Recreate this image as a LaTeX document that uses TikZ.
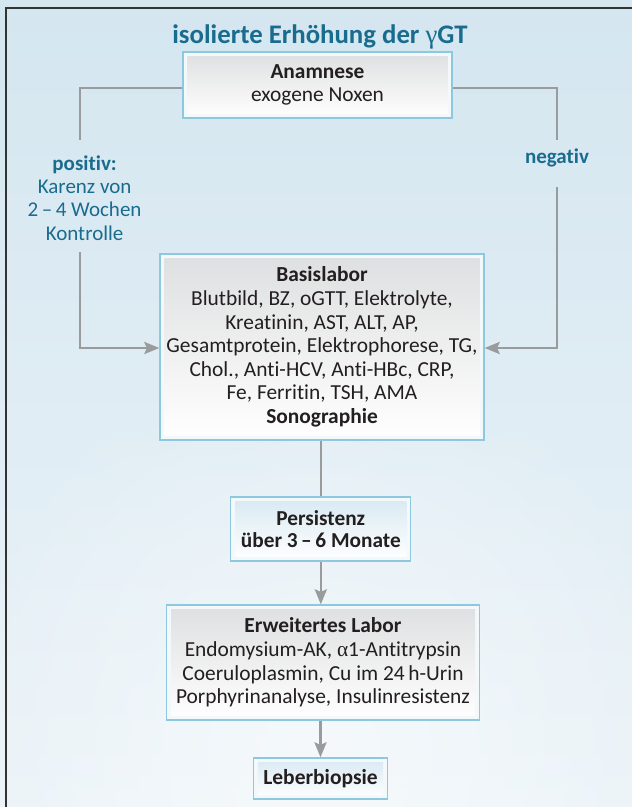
\documentclass[tikz,border=0pt]{standalone}
\usepackage{fontspec}
\setmainfont{Carlito}[Ligatures=NoCommon]
\newfontfamily\grk{Liberation Serif}
\usetikzlibrary{arrows.meta,fadings}
\tikzfading[name=myfade, inner color=transparent!0, outer color=transparent!100]
\definecolor{bgtop}{HTML}{D4E6F0}
\definecolor{bgbot}{HTML}{EBF3F8}
\definecolor{teal}{HTML}{1A6C8E}
\definecolor{framecol}{HTML}{8EC8DE}
\definecolor{framefill}{HTML}{F3F8FB}
\definecolor{conncol}{HTML}{9A9B9D}
\definecolor{txt}{HTML}{231F20}
\definecolor{graytop}{HTML}{DEDFE0}
\definecolor{bluetop}{HTML}{D8E9F2}
\tikzset{
  box/.style={draw=framecol, line width=1.3pt, fill=framefill, text=txt,
    align=center, inner sep=0pt, font=\fontsize{21.4}{23.6}\selectfont},
  graybox/.style={box, path picture={\shade[top color=graytop, bottom color=white]
    ([shift={(4.5pt,-4.5pt)}]path picture bounding box.north west) rectangle
    ([shift={(-4.5pt,4.5pt)}]path picture bounding box.south east);}},
  bluebox/.style={box, path picture={\shade[top color=bluetop, bottom color=white]
    ([shift={(4.5pt,-4.5pt)}]path picture bounding box.north west) rectangle
    ([shift={(-4.5pt,4.5pt)}]path picture bounding box.south east);}},
  conn/.style={draw=conncol, line width=2.6pt},
  arr/.style={conn, -{Stealth[length=15pt,width=12pt,inset=2.5pt]}},
  lbl/.style={text=teal, align=center, inner sep=0pt, font=\fontsize{21}{23.4}\selectfont}
}
\begin{document}
\begin{tikzpicture}[x=1pt,y=-1pt]
\useasboundingbox (0,0) rectangle (632,807);
\shade[top color=bgtop, bottom color=bgbot] (0,0) rectangle (632,807);
\fill[white, opacity=0.55, path fading=myfade] (320,760) ellipse (380 and 420);
\draw[line width=2pt, color=black!80] (5.5,807) -- (5.5,7.5) -- (632,7.5);

\node[text=teal, font=\fontsize{26.8}{30}\selectfont\bfseries, inner sep=0pt] (title) at (320,37)
  {isolierte Erhöhung der {\grk\mdseries γ}GT};

\node[graybox, minimum width=269pt, minimum height=66pt] (anam) at (317.5,85)
  {\textbf{Anamnese}\\exogene Noxen};

\node[graybox, minimum width=324pt, minimum height=186pt] (bas) at (322,347)
  {\textbf{Basislabor}\\Blutbild, BZ, oGTT, Elektrolyte,\\Kreatinin, AST, ALT, AP,\\Gesamtprotein, Elektrophorese, TG,\\Chol., Anti-HCV, Anti-HBc, CRP,\\Fe, Ferritin, TSH, AMA\\\textbf{Sonographie}};

\node[bluebox, minimum width=180pt, minimum height=64pt, font=\fontsize{21.3}{22}\selectfont\bfseries] (pers) at (320.8,529)
  {Persistenz\\über 3\,–\,6 Monate};

\node[graybox, minimum width=313pt, minimum height=115pt] (erw) at (323,662.5)
  {\textbf{Erweitertes Labor}\\Endomysium-AK, {\grk α}1-Antitrypsin\\Coeruloplasmin, Cu im 24\,h-Urin\\Porphyrinanalyse, Insulinresistenz};

\node[bluebox, minimum width=134pt, minimum height=41pt, font=\fontsize{21.5}{22}\selectfont\bfseries] (leb) at (320.5,778.5)
  {Leberbiopsie};

\node[lbl] (pos) at (84.6,198) {\textbf{positiv:}\\Karenz von\\2\,–\,4 Wochen\\Kontrolle};
\node[lbl, font=\fontsize{21}{23.4}\selectfont\bfseries] (neg) at (557,158) {negativ};

\coordinate (pT) at (80,140);
\coordinate (pB) at (80,252);
\coordinate (nT) at (557,140);
\coordinate (nB) at (557,187);

\draw[conn] ([yshift=-3pt]anam.west) -| (pT);
\draw[arr] (pB) |- ([yshift=-1pt]bas.west);
\draw[conn] ([yshift=-3pt]anam.east) -| (nT);
\draw[arr] (nB) |- ([yshift=-1pt]bas.east);

\draw[conn] (pers.north |- bas.south) -- (pers.north);
\draw[arr] (pers.south) -- (pers.south |- erw.north);
\draw[arr] (leb.north |- erw.south) -- (leb.north);
\end{tikzpicture}
\end{document}
